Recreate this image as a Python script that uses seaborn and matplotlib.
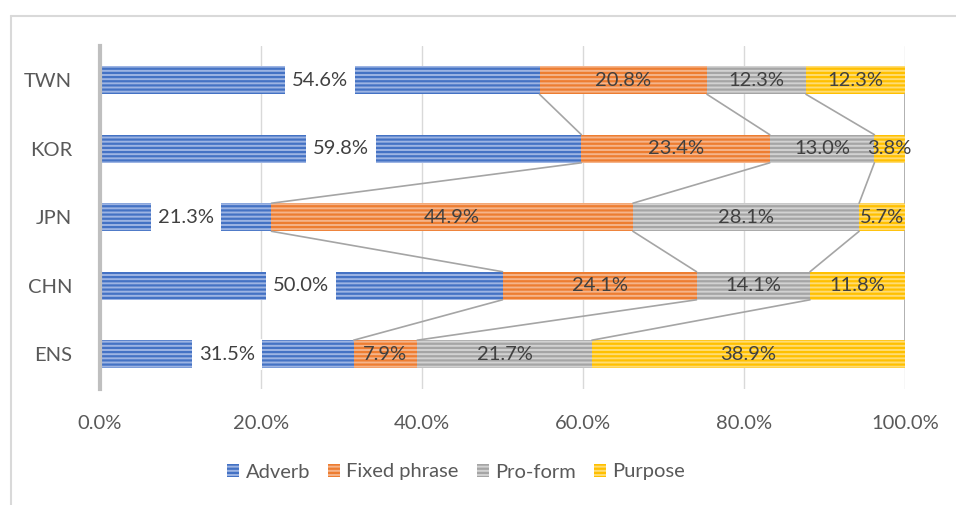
import matplotlib
matplotlib.use("Agg")
import matplotlib.pyplot as plt
from matplotlib.patches import Patch
from matplotlib.lines import Line2D
import seaborn as sns
import pandas as pd
import numpy as np

categories = ["TWN", "KOR", "JPN", "CHN", "ENS"]
series = ["Adverb", "Fixed phrase", "Pro-form", "Purpose"]
adverb = [54.6, 59.8, 21.3, 50.0, 31.5]
fixed_phrase = [20.8, 23.4, 44.9, 24.1, 7.9]
pro_form = [12.3, 13.0, 28.1, 14.1, 21.7]
purpose = [12.3, 3.8, 5.7, 11.8, 38.9]
xticks = [0, 20, 40, 60, 80, 100]

dark = ["#4472C4", "#ED7D31", "#A5A5A5", "#FFC000"]
light = ["#9db4e3", "#f5b48a", "#d2d2d2", "#ffdc73"]

sns.set_theme(style="white")
plt.rcParams["font.family"] = ["Lato", "DejaVu Sans"]
plt.rcParams["hatch.linewidth"] = 1.6

vals = np.array([adverb, fixed_phrase, pro_form, purpose]) / 100.0
cum = np.cumsum(vals, axis=0)

fig = plt.figure(figsize=(9.56, 5.05), dpi=100)
W, H = 956, 505
ax = fig.add_axes([100 / W, 1 - 388.5 / H, 805 / W, 342.5 / H])

FS = 14.5
bar_w = 0.41
for k in range(3, -1, -1):
    df = pd.DataFrame({"cat": categories, "val": cum[k]})
    sns.barplot(data=df, x="val", y="cat", order=categories, orient="h",
                color=light[k], width=bar_w, ax=ax, saturation=1,
                edgecolor=dark[k], linewidth=0, hatch="----")

ax.set_xlim(0, 1)
ax.set_ylim(len(categories) - 0.5, -0.5)
ax.set_xticks([t / 100 for t in xticks])
ax.set_xticklabels([f"{t:.1f}%" for t in xticks])
ax.set_xlabel("")
ax.set_ylabel("")
ax.grid(axis="x", color="#D9D9D9", linewidth=1)
ax.set_axisbelow(True)
for s in ["top", "right", "bottom"]:
    ax.spines[s].set_visible(False)
ax.spines["left"].set_color("#BFBFBF")
ax.spines["left"].set_linewidth(3)
ax.tick_params(axis="x", length=0, pad=19, labelsize=FS, labelcolor="#595959")
ax.tick_params(axis="y", length=0, pad=20, labelsize=FS, labelcolor="#595959")

# series lines
for i in range(len(categories) - 1):
    for k in range(4):
        ax.plot([cum[k][i], cum[k][i + 1]], [i + bar_w / 2, i + 1 - bar_w / 2],
                color="#A5A5A5", linewidth=1.2, zorder=1.5)

# data labels
for i in range(len(categories)):
    for k in range(4):
        start = cum[k][i] - vals[k][i]
        xc = start + vals[k][i] / 2
        txt = f"{vals[k][i] * 100:.1f}%"
        kw = {}
        if k == 0:
            kw["bbox"] = dict(facecolor="white", edgecolor="none", pad=5)
        ax.text(xc, i, txt, ha="center", va="center", fontsize=FS,
                color="#404040", zorder=5, **kw)

handles = [Patch(facecolor=light[k], edgecolor=dark[k], linewidth=0,
                 hatch="----", label=series[k]) for k in range(4)]
fig.legend(handles=handles, loc="center", bbox_to_anchor=(456 / W, 1 - 472 / H),
           ncol=4, frameon=False, fontsize=FS, handlelength=0.6,
           handleheight=0.6, columnspacing=0.9, handletextpad=0.3,
           labelcolor="#595959")

# outer chart frame (partially visible)
fig.add_artist(Line2D([11 / W, 11 / W], [0, 1 - 16 / H], color="#D9D9D9",
                      linewidth=1.5, transform=fig.transFigure))
fig.add_artist(Line2D([11 / W, 1], [1 - 16 / H, 1 - 16 / H], color="#D9D9D9",
                      linewidth=1.5, transform=fig.transFigure))

fig.savefig("out.png", dpi=100, facecolor="white")
